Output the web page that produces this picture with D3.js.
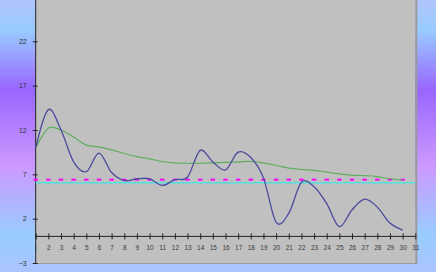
<!DOCTYPE html>
<html>
<meta charset="utf-8">
<script src="https://d3js.org/d3.v7.min.js"></script>
<style>
body { margin: 0; padding: 0; overflow: hidden; }
text { font-family: "Liberation Sans", Arial, sans-serif; }
</style>
<body>
<div id="my_dataviz"></div>
<script>
// data
var days = d3.range(1, 31);
var blueValues = [10, 14.3, 12, 8.4, 7.3, 9.4, 7.2, 6.3, 6.5, 6.5,
                  5.75, 6.4, 6.7, 9.7, 8.4, 7.5, 9.5, 8.9, 6.6, 1.6,
                  2.6, 6.1, 5.6, 3.7, 1.1, 3.0, 4.2, 3.3, 1.5, 0.7];
var greenValues = [10, 12.2, 12.0, 11.2, 10.3, 10.1, 9.75, 9.35, 9.0, 8.75,
                   8.45, 8.3, 8.25, 8.25, 8.3, 8.35, 8.4, 8.45, 8.3, 8.0,
                   7.7, 7.55, 7.45, 7.25, 7.05, 6.9, 6.85, 6.75, 6.5, 6.35];
var markerValue = 6.4;   // magenta dash markers
var refValue = 6.05;     // cyan level line
var yTicks = [-3, 2, 7, 12, 17, 22];
var xTicks = d3.range(1, 32);

var width = 436, height = 272;

var svg = d3.select("#my_dataviz")
  .append("svg")
    .attr("width", width)
    .attr("height", height);

// background gradient
var grad = svg.append("defs").append("linearGradient")
    .attr("id", "bg")
    .attr("x1", 0).attr("y1", 0).attr("x2", 0).attr("y2", 1);
[[0, "#b0c4fc"], [0.11, "#99ccff"], [0.33, "#9966ff"], [0.61, "#cc99ff"],
 [0.86, "#99ccff"], [1, "#aac4ff"]].forEach(function(s) {
  grad.append("stop").attr("offset", s[0]).attr("stop-color", s[1]);
});
svg.append("rect")
  .attr("width", width).attr("height", height)
  .attr("fill", "url(#bg)");

var x = d3.scaleLinear()
  .domain([1, 31])
  .range([35.7, 415.3]);

var y = d3.scaleLinear()
  .domain([-3, 27])
  .range([263, -3]);

// plot area
svg.append("rect")
  .attr("x", x(1)).attr("y", y(27))
  .attr("width", x(31) - x(1)).attr("height", y(-3) - y(27))
  .attr("fill", "#c0c0c0");
svg.append("line")
  .attr("x1", x(31) + 1).attr("x2", x(31) + 1)
  .attr("y1", y(27)).attr("y2", y(-3) + 1)
  .attr("stroke", "#9a9a9a").attr("stroke-width", 2);
svg.append("line")
  .attr("x1", x(1)).attr("x2", x(31) + 2)
  .attr("y1", y(-3) + 0.5).attr("y2", y(-3) + 0.5)
  .attr("stroke", "#9a9a9a").attr("stroke-width", 1);

// x axis at zero
var xAxis = svg.append("g")
  .attr("transform", "translate(0," + y(0) + ")")
  .call(d3.axisBottom(x).tickValues(xTicks).tickSize(3).tickFormat(d3.format("d")));
xAxis.select(".domain").attr("stroke", "#222").attr("d", "M" + x(1) + ",0H" + x(31));
xAxis.selectAll(".tick line").attr("y1", -3).attr("y2", 3).attr("stroke", "#222");
xAxis.selectAll(".tick text")
  .attr("y", 9).attr("dy", "0.71em")
  .attr("font-size", 6.5).attr("fill", "#3a3a3a");
xAxis.selectAll(".tick text").filter(function(d) { return d === 1; })
  .attr("fill", "#5fb8c8");

// y axis
var yAxis = svg.append("g")
  .attr("transform", "translate(" + x(1) + ",0)")
  .call(d3.axisLeft(y).tickValues(yTicks).tickSize(3));
yAxis.select(".domain").attr("stroke", "#222").attr("d", "M0," + y(27) + "V" + y(-3));
yAxis.selectAll(".tick line").attr("x1", -3).attr("x2", 2).attr("stroke", "#222");
yAxis.selectAll(".tick text")
  .attr("x", -9).attr("font-size", 7).attr("fill", "#333");

// cyan level line
svg.append("line")
  .attr("x1", x(1)).attr("x2", x(31))
  .attr("y1", y(refValue)).attr("y2", y(refValue))
  .attr("stroke", "#55dede").attr("stroke-width", 1.5);

// magenta dash markers
svg.selectAll("markers")
  .data(days)
  .enter()
  .append("rect")
    .attr("x", function(d) { return x(d) - 2.2; })
    .attr("y", y(markerValue) - 1)
    .attr("width", 4.4).attr("height", 2)
    .attr("fill", "#ff00ff");

var line = d3.line()
  .curve(d3.curveCardinal.tension(0))
  .x(function(d) { return x(d[0]); })
  .y(function(d) { return y(d[1]); });

svg.append("path")
  .datum(days.map(function(d, i) { return [d, greenValues[i]]; }))
  .attr("fill", "none")
  .attr("stroke", "#5eae5e")
  .attr("stroke-width", 1.2)
  .attr("d", line);

svg.append("path")
  .datum(days.map(function(d, i) { return [d, blueValues[i]]; }))
  .attr("fill", "none")
  .attr("stroke", "#4b4b9e")
  .attr("stroke-width", 1.3)
  .attr("d", line);
</script>
</body>
</html>
